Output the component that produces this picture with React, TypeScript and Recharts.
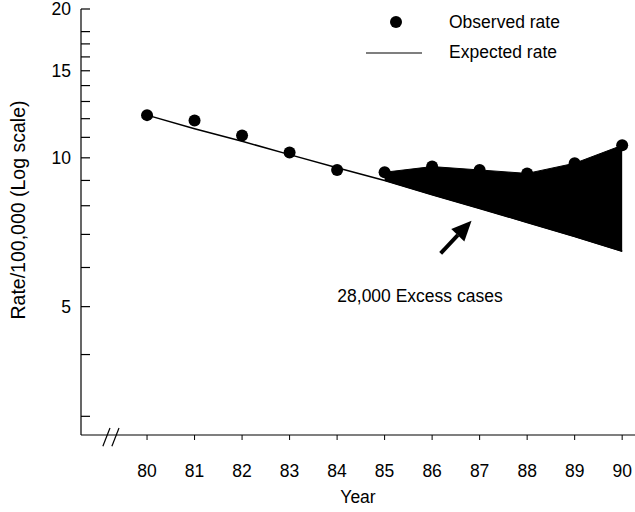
import React from "react";
import {
  ComposedChart, Line, Area, XAxis, YAxis, ReferenceLine, ReferenceDot,
} from "recharts";

const years = [80, 81, 82, 83, 84, 85, 86, 87, 88, 89, 90];
const observed = [12.2, 11.9, 11.1, 10.25, 9.45, 9.35, 9.6, 9.45, 9.3, 9.75, 10.6];
const expected = [12.2, 11.45, 10.8, 10.15, 9.55, 9.0, 8.42, 7.9, 7.4, 6.93, 6.47];
const excessFrom = 85;

const yTicks = [3, 4, 5, 6, 7, 8, 9, 10, 11, 12, 13, 14, 15, 16, 17, 18, 20];
const yLabels = [5, 10, 15, 20];

const FONT = "'Liberation Sans', Arial, Helvetica, sans-serif";
const INK = "#000";

const data = years.map((year, i) => ({
  year,
  observed: observed[i],
  expected: expected[i],
  band: year >= excessFrom ? [expected[i], observed[i]] : null,
}));

function YTick(props: any) {
  const { x, y, payload } = props;
  const v = payload.value;
  return (
    <g>
      <line x1={x} x2={x + 9} y1={y} y2={y} stroke={INK} strokeWidth={1.2} />
      {yLabels.includes(v) && (
        <text x={x - 10} y={y} textAnchor="end" dominantBaseline="central"
          fontSize={17.5} fontFamily={FONT} fill={INK}>
          {v}
        </text>
      )}
    </g>
  );
}

function Arrow(props: any) {
  const { x1, y1, x2, y2 } = props;
  const dx = x2 - x1, dy = y2 - y1;
  const len = Math.sqrt(dx * dx + dy * dy);
  const ux = dx / len, uy = dy / len;
  const headLen = 20, half = 9;
  const bx = x2 - ux * headLen, by = y2 - uy * headLen;
  const px = -uy, py = ux;
  return (
    <g>
      <line x1={x1} y1={y1} x2={bx} y2={by} stroke={INK} strokeWidth={4} />
      <polygon
        points={`${x2},${y2} ${bx + px * half},${by + py * half} ${bx - px * half},${by - py * half}`}
        fill={INK}
      />
    </g>
  );
}

export default function App() {
  return (
    <div style={{ position: "absolute", left: 0, top: 0, width: 635, height: 512, background: "#fff", fontFamily: FONT }}>
      <ComposedChart width={635} height={512} data={data}
        margin={{ top: 9, right: 0, bottom: 0, left: 0 }}>
        <XAxis dataKey="year" type="number" domain={[78.61, 90.27]} ticks={years}
          allowDataOverflow interval={0} height={77} tickSize={5} tickMargin={25}
          axisLine={{ stroke: INK, strokeWidth: 1.2 }} tickLine={{ stroke: INK }}
          tick={{ fill: INK, fontSize: 17.5, fontFamily: FONT }}
          label={{ value: "Year", position: "insideBottom", offset: 9, fill: INK, fontSize: 17.5, fontFamily: FONT }} />
        <YAxis scale="log" domain={[2.75, 20]} ticks={yTicks} allowDataOverflow interval={0}
          width={81} tickSize={0} tickMargin={0} tickLine={false}
          axisLine={{ stroke: INK, strokeWidth: 1.2 }} tick={<YTick />}
          label={{
            content: () => (
              <text x={18} y={210} transform="rotate(-90 18 210)" textAnchor="middle"
                dominantBaseline="central" fontSize={19.5} fontFamily={FONT} fill={INK}>
                Rate/100,000  (Log scale)
              </text>
            ),
          }} />
        <Area dataKey="band" type="linear" stroke={INK} strokeWidth={1} fill={INK}
          fillOpacity={1} isAnimationActive={false} dot={false} activeDot={false} />
        <Line dataKey="expected" type="linear" stroke={INK} strokeWidth={1.5}
          dot={false} activeDot={false} isAnimationActive={false} />
        <Line dataKey="observed" type="linear" stroke="none"
          dot={{ r: 6, fill: INK, stroke: "none" }} activeDot={false} isAnimationActive={false} />
        <ReferenceLine segment={[{ x: 86.18, y: 6.41 }, { x: 86.83, y: 7.46 }]}
          ifOverflow="visible" shape={<Arrow />} />
        <ReferenceLine segment={[{ x: 79.07, y: 2.61 }, { x: 79.22, y: 2.84 }]}
          ifOverflow="visible" stroke={INK} strokeWidth={1.2} />
        <ReferenceLine segment={[{ x: 79.26, y: 2.61 }, { x: 79.41, y: 2.84 }]}
          ifOverflow="visible" stroke={INK} strokeWidth={1.2} />
        <ReferenceDot x={85.745} y={5.25} r={0} ifOverflow="visible"
          label={{ value: "28,000 Excess cases", position: "center", fill: INK, fontSize: 17.5, fontFamily: FONT }} />
      </ComposedChart>
      <div style={{ position: "absolute", left: 0, top: 0, width: 635, height: 70, pointerEvents: "none" }}>
        <svg width={635} height={70} style={{ position: "absolute", left: 0, top: 0 }}>
          <circle cx={396} cy={22} r={6} fill={INK} />
          <line x1={366} x2={422} y1={53} y2={53} stroke={INK} strokeWidth={1.2} />
        </svg>
        <div style={{ position: "absolute", left: 449, top: 12, lineHeight: "20px", fontSize: 17.5, color: INK, whiteSpace: "nowrap" }}>
          Observed rate
        </div>
        <div style={{ position: "absolute", left: 449, top: 42, lineHeight: "20px", fontSize: 17.5, color: INK, whiteSpace: "nowrap" }}>
          Expected rate
        </div>
      </div>
    </div>
  );
}
